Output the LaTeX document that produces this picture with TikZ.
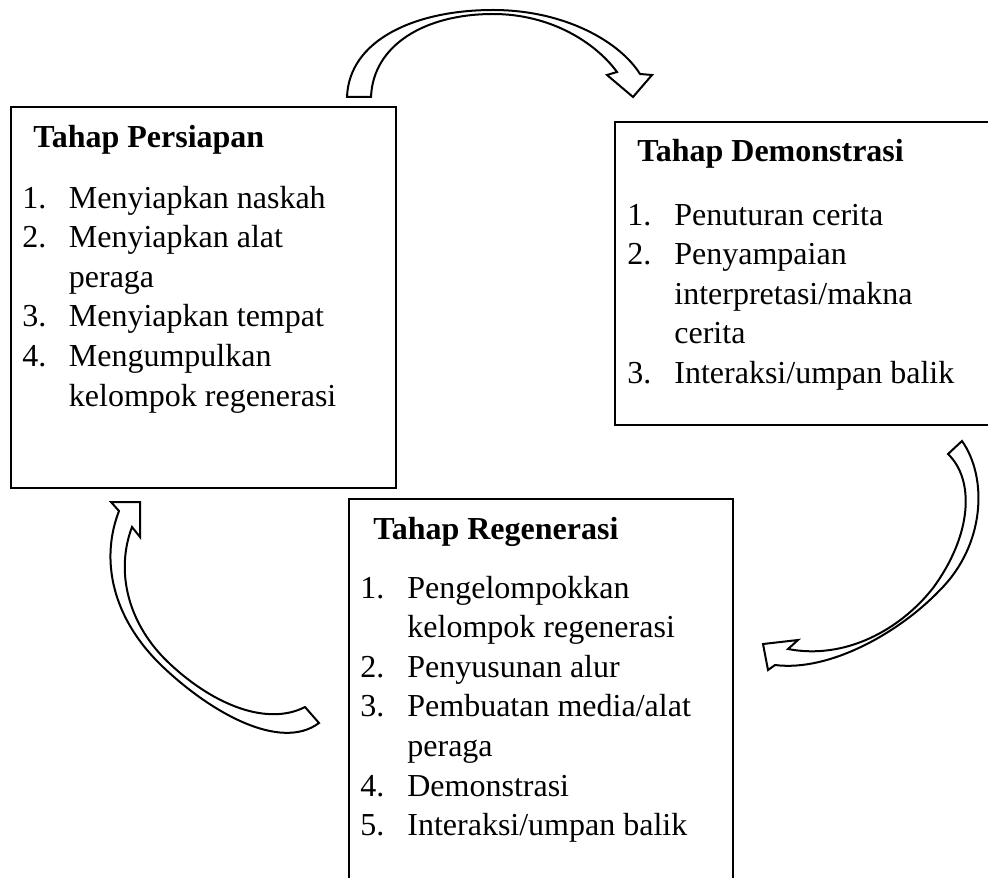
\documentclass[tikz,border=0pt]{standalone}
\usepackage{fontspec}
\setmainfont{Liberation Serif}
\usepackage{tikz}
\usetikzlibrary{positioning}

\begin{document}
\begin{tikzpicture}[
  x=0.5pt, y=-0.5pt,
  stagebox/.style={black, line width=1pt},
  stagetitle/.style={anchor=base west, inner sep=0pt, font=\fontsize{16}{19.8}\selectfont\bfseries},
  stagelist/.style={anchor=base west, inner sep=0pt, font=\fontsize{16}{19.8}\selectfont},
  curvearrow/.style={draw=black, line width=1pt, fill=white, line join=miter},
]
\useasboundingbox (0,0) rectangle (988,877);
% the three stages; Demonstrasi runs off the right edge, Regenerasi off the bottom
\draw[stagebox] (11,107) rectangle (396,488);
\draw[stagebox] (615,122) rectangle (996,425);
\draw[stagebox] (349,499) rectangle (733,890);
% Tahap Persiapan
\node[stagetitle] (persiapan) at (33,148) {Tahap Persiapan};
\node[stagelist] (persiapanlist) at (22,208) {\begin{tabular}[t]{@{}p{23.25pt}@{}l@{}}
1. & Menyiapkan naskah\\
2. & Menyiapkan alat\\
   & peraga\\
3. & Menyiapkan tempat\\
4. & Mengumpulkan\\
   & kelompok regenerasi
\end{tabular}};
% Tahap Demonstrasi
\node[stagetitle] (demonstrasi) at (637,162) {Tahap Demonstrasi};
\node[stagelist] (demonstrasilist) at (627,225) {\begin{tabular}[t]{@{}p{23.5pt}@{}l@{}}
1. & Penuturan cerita\\
2. & Penyampaian\\
   & interpretasi/makna\\
   & cerita\\
3. & Interaksi/umpan balik
\end{tabular}};
% Tahap Regenerasi
\node[stagetitle] (regenerasi) at (373,539) {Tahap Regenerasi};
\node[stagelist] (regenerasilist) at (360,598) {\begin{tabular}[t]{@{}p{23.5pt}@{}l@{}}
1. & Pengelompokkan\\
   & kelompok regenerasi\\
2. & Penyusunan alur\\
3. & Pembuatan media/alat\\
   & peraga\\
4. & Demonstrasi\\
5. & Interaksi/umpan balik
\end{tabular}};
% curved block arrows: Persiapan -> Demonstrasi (over the top)
\draw[curvearrow] (347,97) .. controls (349,40) and (415,10) .. (493,10)
  .. controls (565,10) and (620,42) .. (640,74) -- (652,75) -- (633,97) -- (607,75) -- (617,72)
  .. controls (595,42) and (550,14) .. (493,14) .. controls (425,14) and (373,45) .. (371,97) -- cycle;
% Demonstrasi -> Regenerasi (right side, down and back)
\draw[curvearrow] (962,441) .. controls (988,478) and (985,545) .. (940,590)
  .. controls (900,632) and (830,672) .. (775,665) -- (768,670) -- (763,644) -- (798,640) -- (788,649)
  .. controls (845,660) and (900,630) .. (933,588) .. controls (972,535) and (975,480) .. (948,454) -- cycle;
% Regenerasi -> Persiapan (left side, back up)
\draw[curvearrow] (319,723) .. controls (280,752) and (210,712) .. (162,666)
  .. controls (112,618) and (100,560) .. (119,511) -- (111,502) -- (140,502) -- (140,537) -- (132,527)
  .. controls (115,572) and (128,625) .. (170,664) .. controls (215,706) and (268,726) .. (305,707) -- cycle;
\end{tikzpicture}
\end{document}
